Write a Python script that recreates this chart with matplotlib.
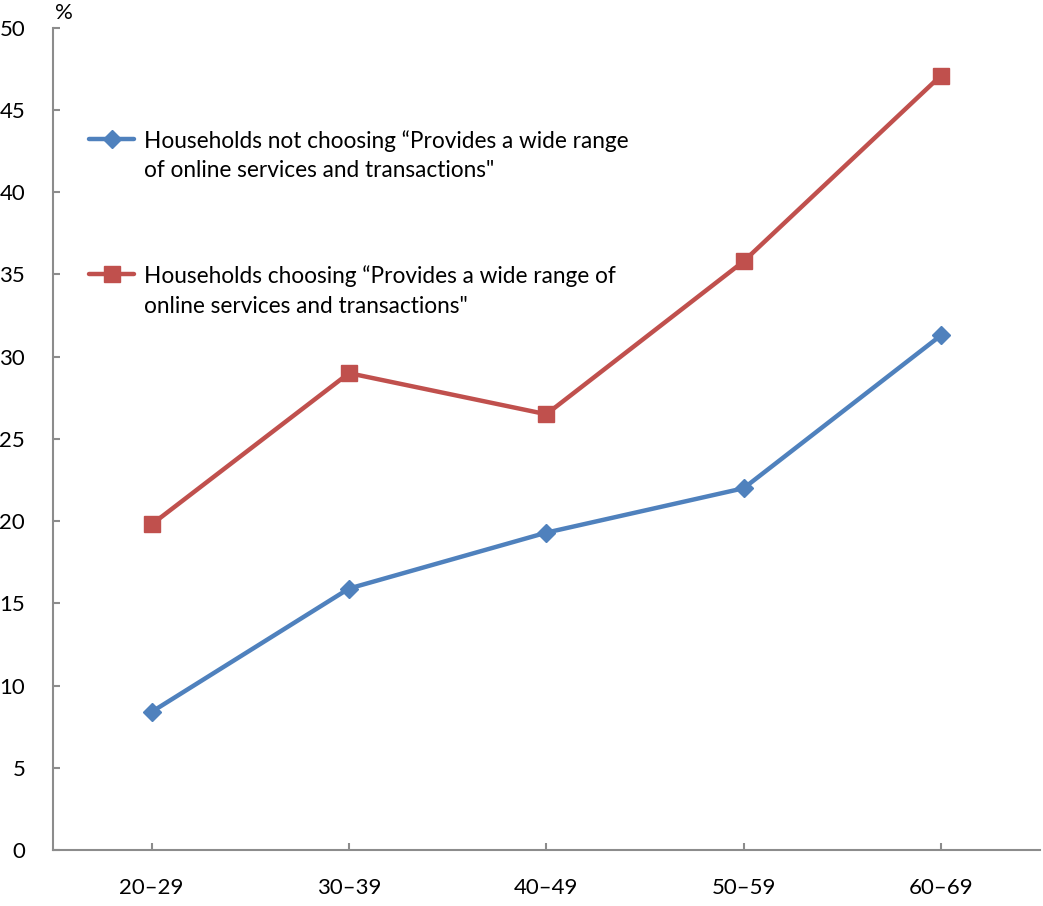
import matplotlib.pyplot as plt
from matplotlib.lines import Line2D

# age groups and share of households (%)
age_groups = ['20\u201329', '30\u201339', '40\u201349', '50\u201359', '60\u201369']
not_choosing = [8.4, 15.9, 19.3, 22.0, 31.3]
choosing = [19.8, 29.0, 26.5, 35.8, 47.1]

label_not = ['Households not choosing \u201cProvides a wide range',
             'of online services and transactions"']
label_yes = ['Households choosing \u201cProvides a wide range of',
             'online services and transactions"']

blue = '#4F81BD'
red = '#C0504D'
axis_grey = '#8C8C8C'

plt.rcParams['font.family'] = ['Lato', 'DejaVu Sans']

fig = plt.figure(figsize=(10.43, 9.06), dpi=100)
ax = fig.add_axes([0.0508, 0.0618, 0.946, 0.9075])

x = range(len(age_groups))
ax.plot(x, not_choosing, color=blue, lw=3.2, marker='D', ms=9,
        solid_capstyle='round', zorder=3)
ax.plot(x, choosing, color=red, lw=3.2, marker='s', ms=12,
        solid_capstyle='round', zorder=3)

ax.set_xlim(-0.5, len(age_groups) - 0.5)
ax.set_ylim(0, 50)
ax.set_yticks(range(0, 51, 5))
ax.set_xticks(list(x))
ax.set_xticklabels(age_groups)

for side in ('top', 'right'):
    ax.spines[side].set_visible(False)
for side in ('left', 'bottom'):
    ax.spines[side].set_color(axis_grey)
    ax.spines[side].set_linewidth(1.5)

ax.tick_params(axis='both', direction='in', length=5, width=1.5,
               color=axis_grey, labelsize=16, labelcolor='black')
ax.tick_params(axis='y', pad=20)
ax.tick_params(axis='x', pad=20)

ax.text(0.0115, 1.006, '%', transform=ax.transAxes, fontsize=16,
        ha='center', va='bottom')

# legend keys and labels
for yk, col, mk, ms, lines in [(0.865, blue, 'D', 9, label_not),
                               (0.700, red, 's', 12, label_yes)]:
    ax.add_line(Line2D([0.037, 0.082], [yk, yk], transform=ax.transAxes,
                       color=col, lw=3.2, solid_capstyle='round'))
    ax.add_line(Line2D([0.0595], [yk], transform=ax.transAxes, color=col,
                       marker=mk, ms=ms))
    for i, line in enumerate(lines):
        ax.text(0.0925, yk - 0.0025 - i * 0.0365, line, transform=ax.transAxes,
                fontsize=16.3, va='center', ha='left')

fig.savefig('out.png', dpi=100)
